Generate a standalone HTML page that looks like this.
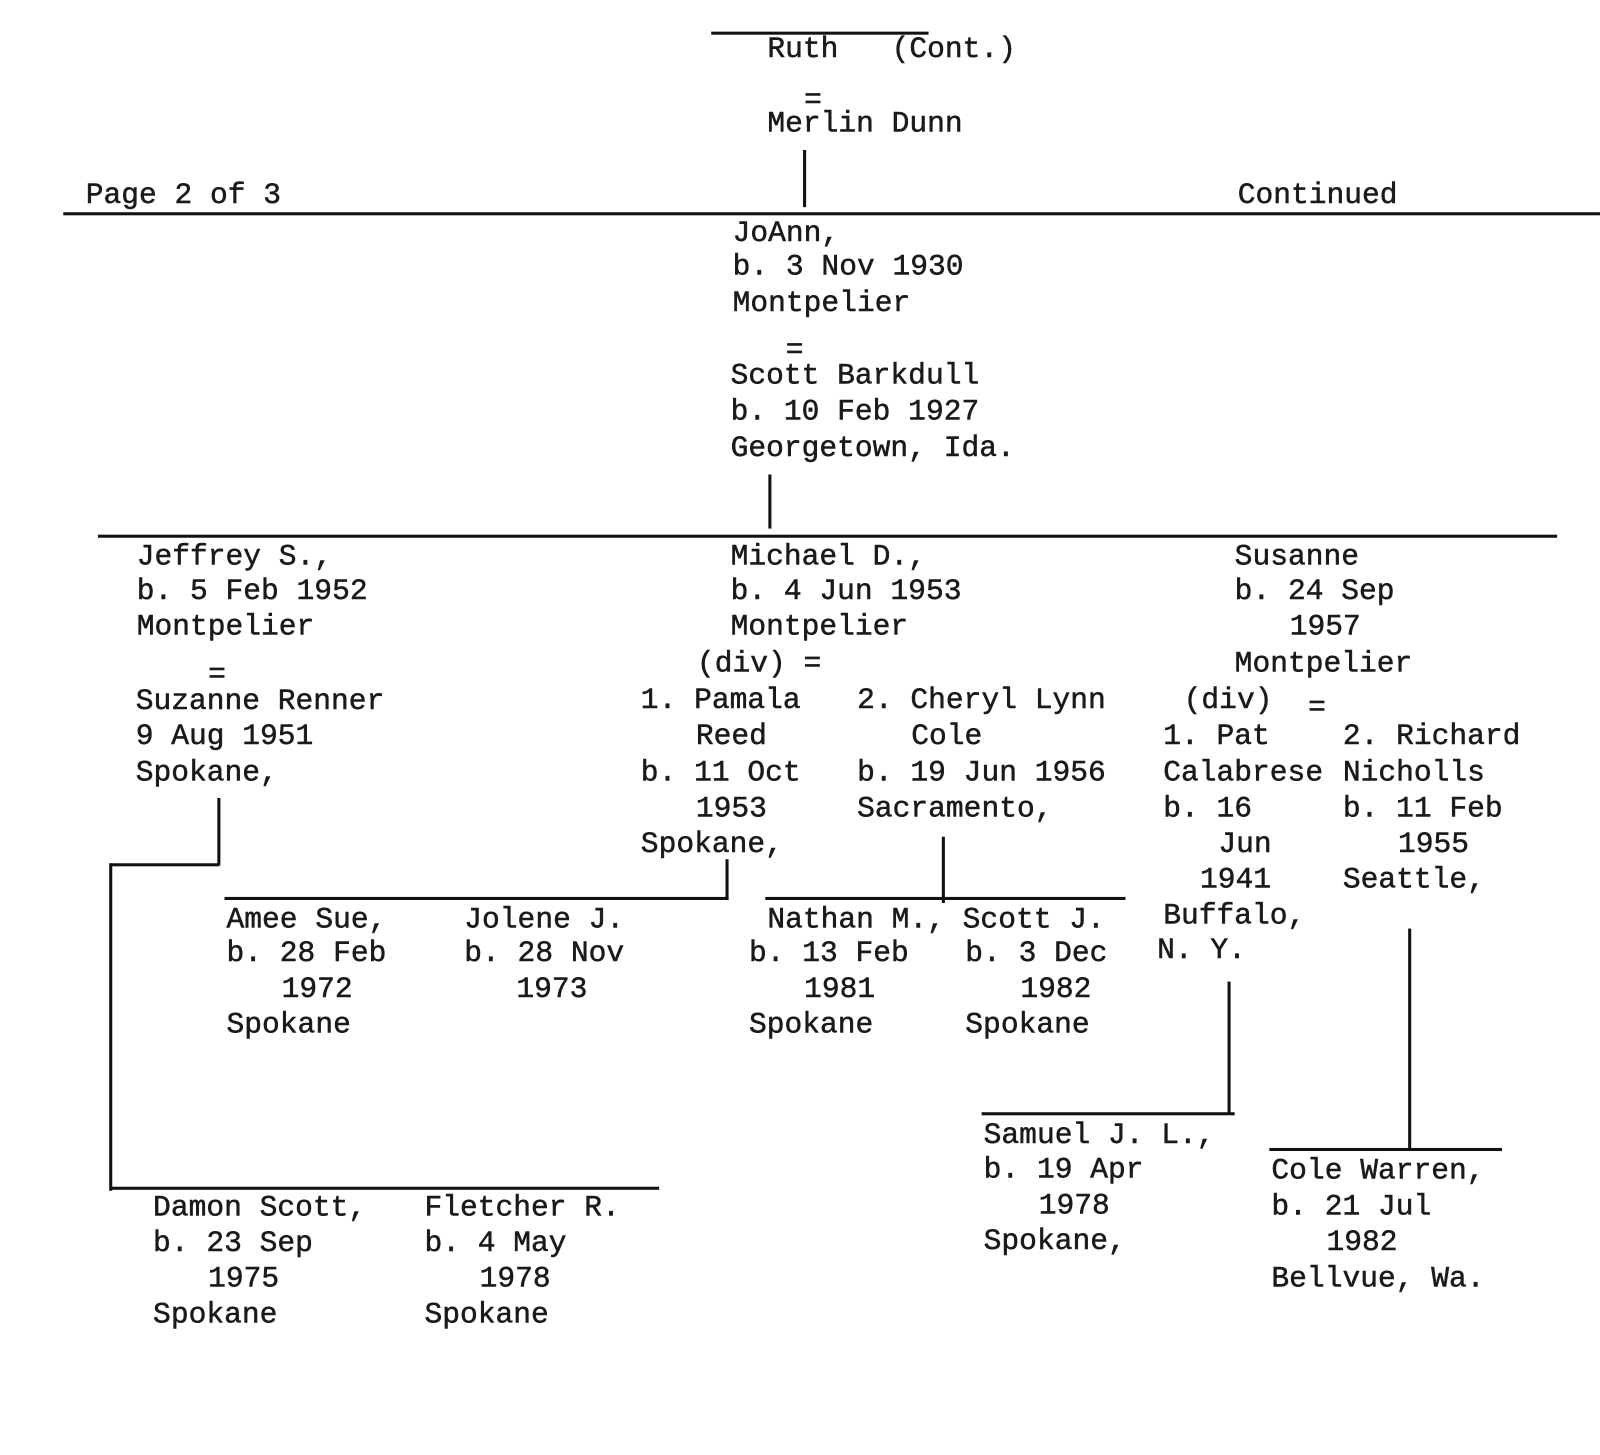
<!DOCTYPE html>
<html><head><meta charset="utf-8"><style>
html,body{margin:0;padding:0;background:#fff;}
body{width:1600px;height:1455px;overflow:hidden;position:relative;}
#w{position:absolute;left:0;top:0;width:1568px;height:1426px;transform:scale(1.0204);transform-origin:0 0;}
.t{position:absolute;margin-top:6px;font-family:"Liberation Mono",monospace;font-size:29px;line-height:29px;color:#1a1a1a;white-space:pre;-webkit-text-stroke:0.5px #1a1a1a;}
.h{position:absolute;height:3px;background:#111;}
.v{position:absolute;width:3px;background:#111;}
</style></head><body><div id="w">
<div class="h" style="left:697px;top:31px;width:213px;"></div>
<div class="t" style="left:752px;top:28px;">Ruth   (Cont.)</div>
<div class="t" style="left:788px;top:78px;">=</div>
<div class="t" style="left:752px;top:101px;">Merlin Dunn</div>
<div class="v" style="left:787px;top:147px;height:56px;"></div>
<div class="t" style="left:84px;top:171px;">Page 2 of 3</div>
<div class="t" style="left:1213px;top:171px;">Continued</div>
<div class="h" style="left:62px;top:208px;width:1506px;"></div>

<div class="t" style="left:718px;top:208px;">JoAnn,</div>
<div class="t" style="left:718px;top:241px;">b. 3 Nov 1930</div>
<div class="t" style="left:718px;top:277px;">Montpelier</div>
<div class="t" style="left:770px;top:323px;">=</div>
<div class="t" style="left:716px;top:348px;">Scott Barkdull</div>
<div class="t" style="left:716px;top:383px;">b. 10 Feb 1927</div>
<div class="t" style="left:716px;top:419px;">Georgetown, Ida.</div>
<div class="v" style="left:753px;top:465px;height:53px;"></div>
<div class="h" style="left:96px;top:524px;width:1430px;"></div>

<div class="t" style="left:134px;top:525px;">Jeffrey S.,</div>
<div class="t" style="left:134px;top:559px;">b. 5 Feb 1952</div>
<div class="t" style="left:134px;top:594px;">Montpelier</div>
<div class="t" style="left:204px;top:641px;">=</div>
<div class="t" style="left:133px;top:667px;">Suzanne Renner</div>
<div class="t" style="left:133px;top:701px;">9 Aug 1951</div>
<div class="t" style="left:133px;top:737px;">Spokane,</div>

<div class="t" style="left:716px;top:525px;">Michael D.,</div>
<div class="t" style="left:716px;top:559px;">b. 4 Jun 1953</div>
<div class="t" style="left:716px;top:594px;">Montpelier</div>
<div class="t" style="left:683px;top:630px;">(div) =</div>
<div class="t" style="left:628px;top:666px;">1. Pamala</div>
<div class="t" style="left:682px;top:701px;">Reed</div>
<div class="t" style="left:628px;top:737px;">b. 11 Oct</div>
<div class="t" style="left:682px;top:772px;">1953</div>
<div class="t" style="left:628px;top:807px;">Spokane,</div>
<div class="t" style="left:840px;top:666px;">2. Cheryl Lynn</div>
<div class="t" style="left:893px;top:701px;">Cole</div>
<div class="t" style="left:840px;top:737px;">b. 19 Jun 1956</div>
<div class="t" style="left:840px;top:772px;">Sacramento,</div>

<div class="t" style="left:1210px;top:525px;">Susanne</div>
<div class="t" style="left:1210px;top:559px;">b. 24 Sep</div>
<div class="t" style="left:1264px;top:594px;">1957</div>
<div class="t" style="left:1210px;top:630px;">Montpelier</div>
<div class="t" style="left:1160px;top:666px;">(div)</div>
<div class="t" style="left:1282px;top:673px;">=</div>
<div class="t" style="left:1140px;top:701px;">1. Pat</div>
<div class="t" style="left:1140px;top:737px;">Calabrese</div>
<div class="t" style="left:1140px;top:772px;">b. 16</div>
<div class="t" style="left:1194px;top:807px;">Jun</div>
<div class="t" style="left:1176px;top:842px;">1941</div>
<div class="t" style="left:1140px;top:877px;">Buffalo,</div>
<div class="t" style="left:1134px;top:911px;">N. Y.</div>
<div class="t" style="left:1316px;top:701px;">2. Richard</div>
<div class="t" style="left:1316px;top:737px;">Nicholls</div>
<div class="t" style="left:1316px;top:772px;">b. 11 Feb</div>
<div class="t" style="left:1370px;top:807px;">1955</div>
<div class="t" style="left:1316px;top:842px;">Seattle,</div>

<div class="v" style="left:213px;top:782px;height:66px;"></div>
<div class="h" style="left:108px;top:846px;width:107px;"></div>
<div class="v" style="left:107px;top:846px;height:321px;"></div>
<div class="h" style="left:108px;top:1163px;width:538px;"></div>

<div class="v" style="left:711px;top:842px;height:40px;"></div>
<div class="h" style="left:220px;top:879px;width:494px;"></div>
<div class="t" style="left:222px;top:881px;">Amee Sue,</div>
<div class="t" style="left:222px;top:914px;">b. 28 Feb</div>
<div class="t" style="left:276px;top:949px;">1972</div>
<div class="t" style="left:222px;top:984px;">Spokane</div>
<div class="t" style="left:455px;top:881px;">Jolene J.</div>
<div class="t" style="left:455px;top:914px;">b. 28 Nov</div>
<div class="t" style="left:506px;top:949px;">1973</div>

<div class="v" style="left:923px;top:820px;height:65px;"></div>
<div class="h" style="left:750px;top:879px;width:353px;"></div>
<div class="t" style="left:752px;top:881px;">Nathan M., Scott J.</div>
<div class="t" style="left:734px;top:914px;">b. 13 Feb</div>
<div class="t" style="left:788px;top:949px;">1981</div>
<div class="t" style="left:734px;top:984px;">Spokane</div>
<div class="t" style="left:946px;top:914px;">b. 3 Dec</div>
<div class="t" style="left:1000px;top:949px;">1982</div>
<div class="t" style="left:946px;top:984px;">Spokane</div>

<div class="v" style="left:1203px;top:962px;height:130px;"></div>
<div class="h" style="left:962px;top:1090px;width:248px;"></div>
<div class="t" style="left:964px;top:1092px;">Samuel J. L.,</div>
<div class="t" style="left:964px;top:1126px;">b. 19 Apr</div>
<div class="t" style="left:1018px;top:1161px;">1978</div>
<div class="t" style="left:964px;top:1196px;">Spokane,</div>

<div class="v" style="left:1380px;top:910px;height:215px;"></div>
<div class="h" style="left:1244px;top:1125px;width:228px;"></div>
<div class="t" style="left:1246px;top:1127px;">Cole Warren,</div>
<div class="t" style="left:1246px;top:1162px;">b. 21 Jul</div>
<div class="t" style="left:1300px;top:1197px;">1982</div>
<div class="t" style="left:1246px;top:1233px;">Bellvue, Wa.</div>

<div class="t" style="left:150px;top:1163px;">Damon Scott,</div>
<div class="t" style="left:150px;top:1198px;">b. 23 Sep</div>
<div class="t" style="left:204px;top:1233px;">1975</div>
<div class="t" style="left:150px;top:1268px;">Spokane</div>
<div class="t" style="left:416px;top:1163px;">Fletcher R.</div>
<div class="t" style="left:416px;top:1198px;">b. 4 May</div>
<div class="t" style="left:470px;top:1233px;">1978</div>
<div class="t" style="left:416px;top:1268px;">Spokane</div>
</div></body></html>
